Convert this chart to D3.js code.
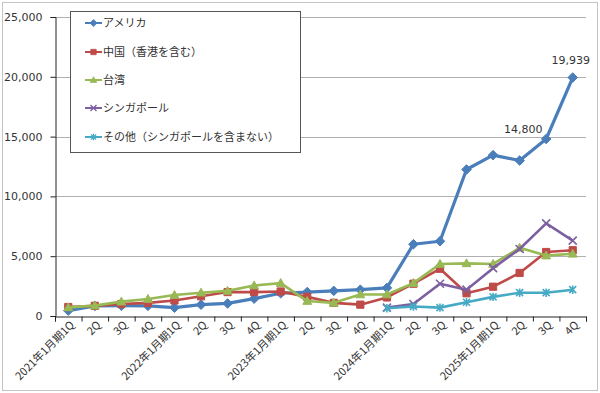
<!DOCTYPE html>
<html>
<head>
<meta charset="utf-8">
<script src="https://cdn.jsdelivr.net/npm/d3@7"></script>
<style>
  html, body { margin: 0; padding: 0; background: #fff; }
  svg { display: block; }
</style>
</head>
<body>
<script>
const categories = ["2021年1月期1Q","2Q","3Q","4Q","2022年1月期1Q","2Q","3Q","4Q","2023年1月期1Q","2Q","3Q","4Q","2024年1月期1Q","2Q","3Q","4Q","2025年1月期1Q","2Q","3Q","4Q"];
const seriesNames = ["アメリカ","中国（香港を含む）","台湾","シンガポール","その他（シンガポールを含まない）"];
const usa = [450, 850, 860, 850, 700, 950, 1050, 1450, 1900, 2000, 2100, 2200, 2350, 6000, 6250, 12250, 13450, 13000, 14800, 19939];
const china = [750, 850, 1000, 1100, 1300, 1650, 2000, 2000, 2050, 1600, 1100, 950, 1550, 2700, 3950, 1900, 2450, 3600, 5350, 5500];
const taiwan = [720, 870, 1200, 1420, 1750, 1950, 2100, 2550, 2750, 1250, 1100, 1800, 1800, 2750, 4350, 4400, 4350, 5700, 5050, 5200];
const singapore = [null, null, null, null, null, null, null, null, null, null, null, null, 700, 1000, 2700, 2200, 4000, 5600, 7750, 6300];
const others = [null, null, null, null, null, null, null, null, null, null, null, null, 650, 800, 700, 1150, 1600, 1950, 1950, 2200];
const yTicks = [0, 5000, 10000, 15000, 20000, 25000];
const labelledPoints = [18, 19]; // indices of アメリカ with data labels

const W = 600, H = 393;
const M = { left: 55, right: 586, top: 17, bottom: 316 };

const series = [
  { name: seriesNames[0], values: usa, color: "#4A7EBB", marker: "diamond", width: 3.2 },
  { name: seriesNames[1], values: china, color: "#BE4B48", marker: "square", width: 2.6 },
  { name: seriesNames[2], values: taiwan, color: "#98B954", marker: "triangle", width: 2.6 },
  { name: seriesNames[3], values: singapore, color: "#7D60A0", marker: "x", width: 2.6 },
  { name: seriesNames[4], values: others, color: "#46AAC5", marker: "star", width: 2.6 }
];

const svg = d3.select("body").append("svg").attr("width", W).attr("height", H);

svg.append("rect").attr("x", 2.5).attr("y", 2.5).attr("width", W - 5).attr("height", H - 5)
  .attr("fill", "#fff").attr("stroke", "#c4c4c4").attr("stroke-width", 1);

const x = d3.scaleBand().domain(d3.range(categories.length)).range([M.left, M.right]).padding(0);
const xb = d3.scaleLinear().domain([0, categories.length]).range([M.left, M.right]);
const y = d3.scaleLinear().domain([0, 25000]).range([M.bottom, M.top]);
const cx = i => x(i) + x.bandwidth() / 2;

// gridlines
svg.append("g").selectAll("line").data(yTicks.filter(d => d > 0)).join("line")
  .attr("x1", M.left).attr("x2", M.right)
  .attr("y1", d => Math.round(y(d)) + 0.5).attr("y2", d => Math.round(y(d)) + 0.5)
  .attr("stroke", "#b0b0b0").attr("stroke-width", 1);

// y axis
const yAxis = svg.append("g").attr("transform", `translate(${M.left + 0.5},0)`)
  .call(d3.axisLeft(y).tickValues(yTicks).tickSize(5).tickPadding(8).tickFormat(d3.format(",")));
yAxis.select(".domain").attr("stroke", "#222");
yAxis.selectAll(".tick line").attr("stroke", "#222");
yAxis.selectAll("text").attr("font-family", "'DejaVu Sans', Verdana, sans-serif").attr("font-size", 11).attr("fill", "#333");

// x axis
const xAxis = svg.append("g").attr("transform", `translate(0,${M.bottom + 0.5})`)
  .call(d3.axisBottom(xb).tickValues(d3.range(categories.length + 1)).tickSize(5).tickFormat(""));
xAxis.select(".domain").attr("stroke", "#222");
xAxis.selectAll(".tick line").attr("stroke", "#222");

svg.append("g").selectAll("text").data(categories).join("text")
  .attr("transform", (d, i) => `translate(${cx(i) + 4},${M.bottom + 7}) rotate(-45)`)
  .attr("text-anchor", "end").attr("dy", "0.35em")
  .attr("font-family", "'Noto Sans CJK JP', sans-serif").attr("font-size", 11).attr("fill", "#333")
  .text(d => d);

// markers
function markerPath(type) {
  switch (type) {
    case "diamond": return "M0,-4.8L4.8,0L0,4.8L-4.8,0Z";
    case "square": return "M-3.6,-3.6H3.6V3.6H-3.6Z";
    case "triangle": return "M0,-4.5L4.4,3.3H-4.4Z";
    case "x": return "M-4,-4L4,4M-4,4L4,-4";
    case "star": return "M-3.5,-3.5L3.5,3.5M-3.5,3.5L3.5,-3.5M0,-4.2V4.2";
  }
}

const line = d3.line().defined(d => d.v != null).x(d => cx(d.i)).y(d => y(d.v));

series.forEach(s => {
  const pts = s.values.map((v, i) => ({ v, i }));
  const g = svg.append("g");
  g.append("path").datum(pts).attr("d", line).attr("fill", "none")
    .attr("stroke", s.color).attr("stroke-width", s.width).attr("stroke-linejoin", "round");
  const open = s.marker === "x" || s.marker === "star";
  g.selectAll("path.m").data(pts.filter(d => d.v != null)).join("path").attr("class", "m")
    .attr("transform", d => `translate(${cx(d.i)},${y(d.v)})`)
    .attr("d", markerPath(s.marker))
    .attr("fill", open ? "none" : s.color)
    .attr("stroke", s.color).attr("stroke-width", open ? 1.6 : 1);
});

// data labels
const fmt = d3.format(",");
const lblOffsets = { 18: [-23, -6], 19: [-2, -13.5] };
svg.append("g").selectAll("text").data(labelledPoints).join("text")
  .attr("x", i => cx(i) + lblOffsets[i][0]).attr("y", i => y(usa[i]) + lblOffsets[i][1])
  .attr("text-anchor", "middle")
  .attr("font-family", "'DejaVu Sans', Verdana, sans-serif").attr("font-size", 11).attr("fill", "#333")
  .text(i => fmt(usa[i]));

// legend
const lg = svg.append("g");
lg.append("rect").attr("x", 70.5).attr("y", 11.5).attr("width", 230).attr("height", 141)
  .attr("fill", "#fff").attr("stroke", "#555").attr("stroke-width", 1);
const rowY = [23, 52, 80, 108, 137];
series.forEach((s, k) => {
  const ry = rowY[k];
  lg.append("line").attr("x1", 85).attr("x2", 102).attr("y1", ry).attr("y2", ry)
    .attr("stroke", s.color).attr("stroke-width", 2);
  const open = s.marker === "x" || s.marker === "star";
  lg.append("path").attr("transform", `translate(93.5,${ry}) scale(0.75)`).attr("d", markerPath(s.marker))
    .attr("fill", open ? "none" : s.color).attr("stroke", s.color).attr("stroke-width", open ? 1.8 : 1);
  lg.append("text").attr("x", 103).attr("y", ry).attr("dy", "0.35em")
    .attr("font-family", "'Noto Sans CJK JP', sans-serif").attr("font-size", 11).attr("fill", "#333")
    .text(s.name);
});
</script>
</body>
</html>
